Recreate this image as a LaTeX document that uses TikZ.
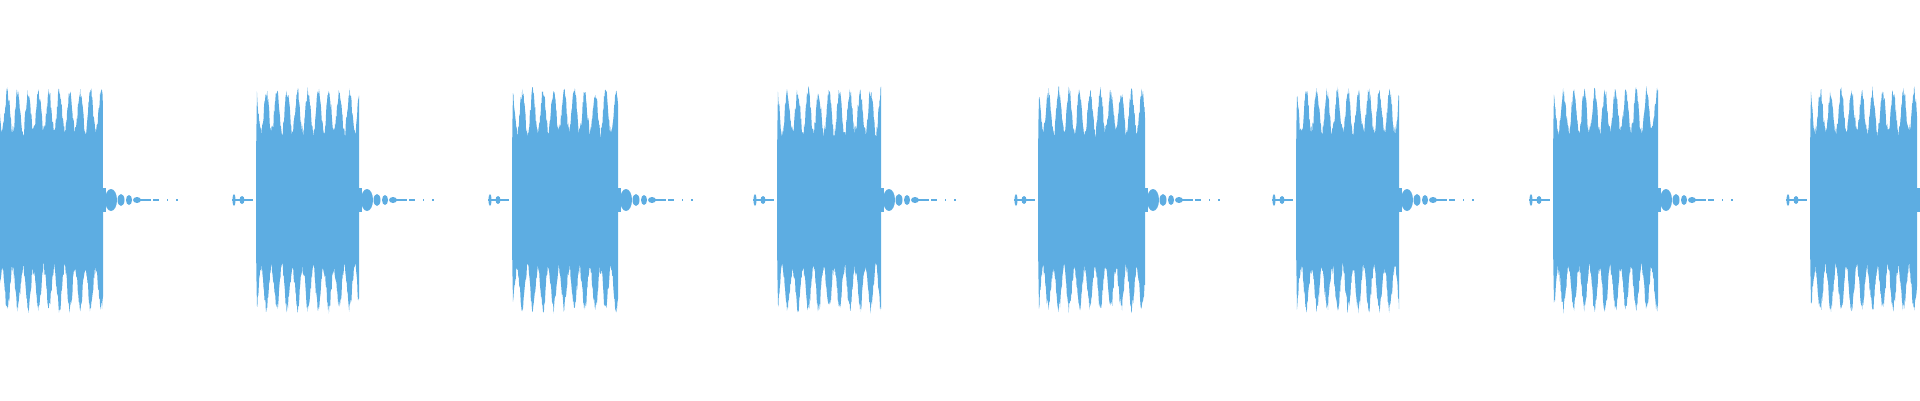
\documentclass[tikz,border=0pt]{standalone}
\definecolor{wv}{HTML}{5DADE2}
\begin{document}
\begin{tikzpicture}[x=1pt,y=1pt,wave/.style={fill=wv,draw=none}]
\useasboundingbox (0,0) rectangle (1920,400);
\clip (0,0) rectangle (1920,400);
\pgfmathsetseed{7}
\newcommand{\wburst}[2]{%
 \fill[wave] plot[domain=0:#2,samples=220] ({#1+\x},{200+(88+20*cos(34.6*\x)+6*rand)*min(1,\x/1.5+0.4)})
  -- plot[domain=#2:0,samples=220] ({#1+\x},{200-(88+20*cos(34.6*\x)+6*rand)*min(1,\x/1.5+0.4)}) -- cycle;
 \fill[wave] (#1+#2,188) rectangle (#1+#2+3,212);
 \fill[wave] (#1+#2+8,200) ellipse [x radius=6,y radius=11];
 \fill[wave] (#1+#2+18,200) ellipse [x radius=3.5,y radius=6];
 \fill[wave] (#1+#2+26,200) ellipse [x radius=3,y radius=5];
 \fill[wave] (#1+#2+34,200) ellipse [x radius=4,y radius=3];
 \fill[wave] (#1+#2+34,199.3) rectangle (#1+#2+48,200.7);
 \fill[wave] (#1+#2+50,199.3) rectangle (#1+#2+56,200.7);
 \fill[wave] (#1+#2+64,199.3) rectangle (#1+#2+65,200.7);
 \fill[wave] (#1+#2+73,199.3) rectangle (#1+#2+75,200.7);
 \fill[wave] (#1-22,200) ellipse [x radius=1.5,y radius=6];
 \fill[wave] (#1-14,200) ellipse [x radius=2.5,y radius=4];
 \fill[wave] (#1-24,199.3) rectangle (#1-3,200.7);
}
\wburst{-3}{106}
\wburst{256}{103}
\wburst{512}{106}
\wburst{777}{104}
\wburst{1038}{107}
\wburst{1296}{103}
\wburst{1553}{105}
\wburst{1810}{107}
\end{tikzpicture}
\end{document}
